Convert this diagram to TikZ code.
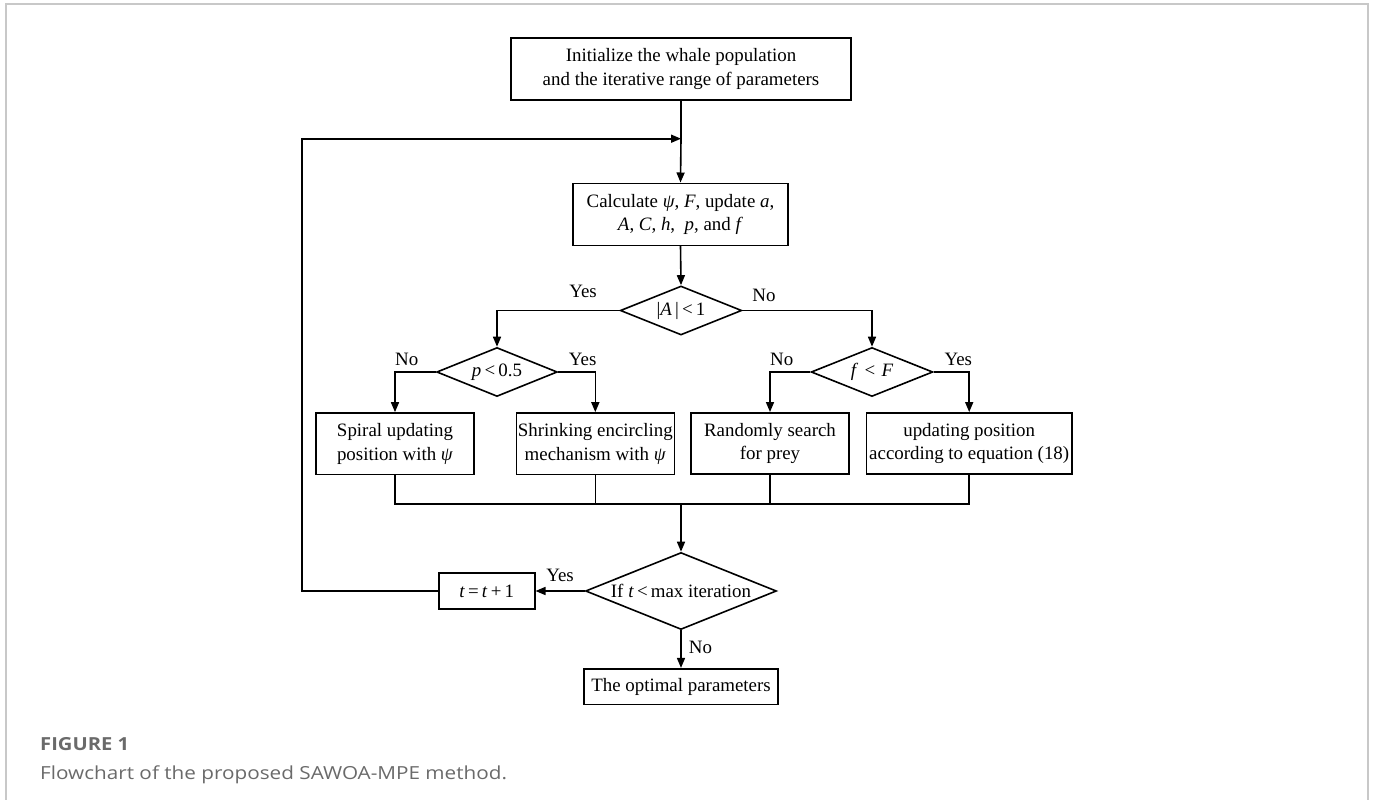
\documentclass[tikz,border=0pt]{standalone}
\usepackage{fontspec}
\setmainfont{Liberation Serif}
\newfontfamily\capfont{Open Sans}
\usetikzlibrary{arrows.meta,shapes.geometric}
\definecolor{frame}{HTML}{C8C8C8}
\definecolor{captext}{HTML}{6A6A6A}
\begin{document}
\begin{tikzpicture}[x=1pt,y=-1pt,
  box/.style={draw, line width=1.6pt, rectangle, inner sep=0pt, align=center,
    font=\fontsize{18.9}{23.5}\selectfont},
  dec/.style={draw, line width=1.6pt, diamond, inner sep=0pt, aspect=2.5,
    font=\fontsize{18.9}{23.5}\selectfont},
  lbl/.style={inner sep=0pt, font=\fontsize{18.9}{22}\selectfont},
  arr/.style={-{Triangle[length=10pt,width=8pt]}, line width=1.6pt},
  ln/.style={line width=1.6pt}]
\useasboundingbox (0,0) rectangle (1373,800);
% frame
\draw[frame, line width=1.6pt] (6,800) -- (6,4) -- (1368,4) -- (1368,800);

% nodes
\node[box, minimum width=340pt, minimum height=62pt] (init) at (681,69)
  {Initialize the whale population\\and the iterative range of parameters};
\node[box, minimum width=215pt, minimum height=62pt] (calc) at (680.5,214.3)
  {Calculate \textit{ψ}, \textit{F}, update \textit{a},\\\textit{A}, \textit{C}, \textit{h},\ \ \textit{p}, and \textit{f}};
\node[dec, minimum width=121.5pt, minimum height=49pt] (d1) at (681,310.5)
  {|\textit{A}\,|\,<\,1};
\node[dec, minimum width=120.6pt, minimum height=49pt] (d2) at (497,372)
  {\textit{p}\,<\,0.5};
\node[dec, minimum width=121.7pt, minimum height=49pt] (d3) at (872,372)
  {\textit{f}\,\,<\,\,\textit{F}};
\node[box, minimum width=158pt, minimum height=61.7pt] (b1) at (395,443.8)
  {Spiral updating\\position with \textit{ψ}};
\node[box, minimum width=158pt, minimum height=61.7pt] (b2) at (595.3,443.8)
  {Shrinking encircling\\mechanism with \textit{ψ}};
\node[box, minimum width=157.7pt, minimum height=61.3pt] (b3) at (770,443.5)
  {Randomly search\\for prey};
\node[box, minimum width=205.7pt, minimum height=61.3pt] (b4) at (969.2,443.5)
  {updating position\\according to equation (18)};
\node[dec, minimum width=191pt, minimum height=77pt] (d4) at (681,591)
  {If \textit{t}\,<\,max iteration};
\node[box, minimum width=96pt, minimum height=36.3pt] (tb) at (486.7,591)
  {\textit{t}\,=\,\textit{t}\,+\,1};
\node[box, minimum width=193.7pt, minimum height=35.6pt] (opt) at (681,686.5)
  {The optimal parameters};

\coordinate (join) at (681,138.7);
\coordinate (merge) at (681,503.7);
\coordinate (loopc) at (301.7,591);

% connectors
\draw[ln] (init.south) -- (join);
\draw[arr] (join) -- (calc.north);
\draw[arr] (calc.south) -- (d1.north);
\draw[arr] (d1.west) -| (d2.north);
\draw[arr] (d1.east) -| (d3.north);
\draw[arr] (d2.west) -| (b1.north);
\draw[arr] (d2.east) -| (b2.north);
\draw[arr] (d3.west) -| (b3.north);
\draw[arr] (d3.east) -| (b4.north);
\draw[ln] (b1.south) -- (b1.south |- merge) -- (b4.south |- merge) -- (b4.south);
\draw[ln] (b2.south) -- (b2.south |- merge);
\draw[ln] (b3.south) -- (b3.south |- merge);
\draw[arr] (merge) -- (d4.north);
\draw[arr] (d4.west) -- (tb.east);
\draw[arr] (tb.west) -- (loopc) |- (join);
\draw[arr] (d4.south) -- (opt.north);

% labels
\node[lbl] (l1y) at (583,291) {Yes};
\node[lbl] (l1n) at (764,295) {No};
\node[lbl] (l2n) at (406.7,359) {No};
\node[lbl] (l2y) at (582.7,359) {Yes};
\node[lbl] (l3n) at (781.7,359) {No};
\node[lbl] (l3y) at (958.3,359) {Yes};
\node[lbl] (l4y) at (560,575.3) {Yes};
\node[lbl] (l4n) at (700.5,647) {No};

% caption
\node[anchor=base west, inner sep=0pt, text=captext, font=\capfont\bfseries\fontsize{18}{20}\selectfont] (fig) at (40,750) {\scalebox{1.12}[1]{FIGURE 1}};
\node[anchor=base west, inner sep=0pt, text=captext, font=\capfont\fontsize{18}{20}\selectfont] (cap) at (40,779.5) {\scalebox{1.15}[1]{Flowchart of the proposed SAWOA-MPE method.}};
\end{tikzpicture}
\end{document}
